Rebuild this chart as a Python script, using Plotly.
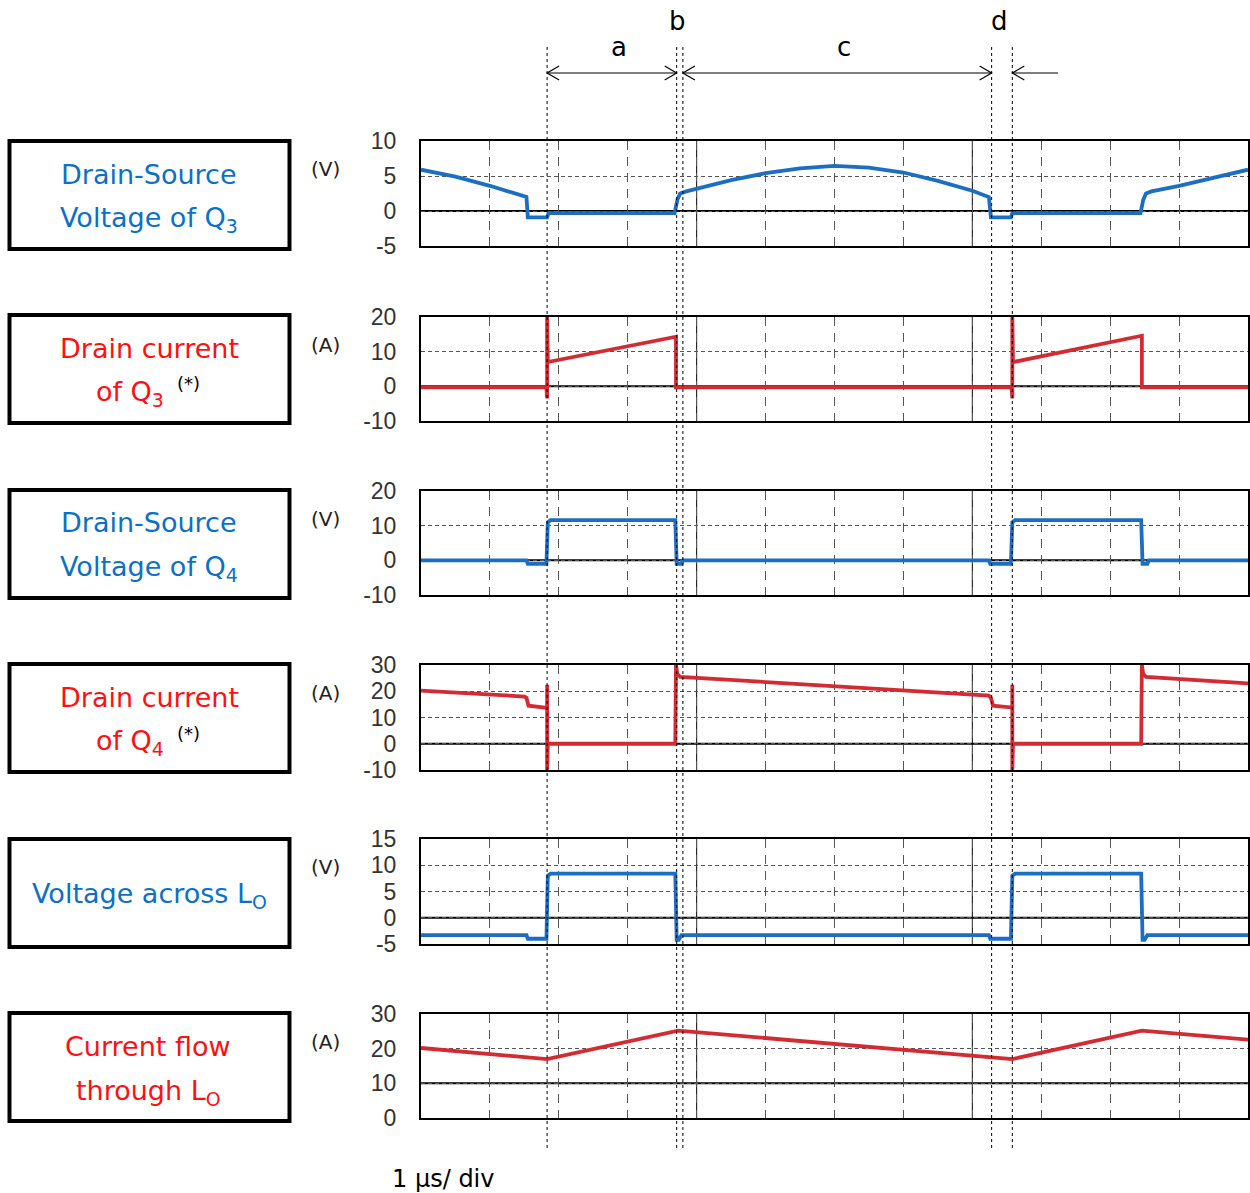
import plotly.graph_objects as go

W, H = 1250, 1193

# ---------------- data (time in µs, 1 µs/div) ----------------
t_vds_q3 = [0, 0.5, 1.0, 1.5, 1.53, 1.55, 1.83, 1.85, 3.68, 3.72, 3.76, 3.85, 4.0, 4.5, 5.0, 5.5,
            6.0, 6.5, 7.0, 7.5, 8.0, 8.24, 8.27, 8.56, 8.58, 10.44, 10.48, 10.52, 10.6, 10.75,
            10.8, 11.0, 11.5, 12.0]
v_vds_q3 = [5.9, 4.9, 3.6, 2.1, 2.0, -0.9, -0.9, -0.3, -0.3, 1.6, 2.5, 2.8, 3.2, 4.4, 5.4, 6.1,
            6.45, 6.2, 5.5, 4.3, 2.9, 2.0, -0.9, -0.9, -0.3, -0.3, 1.6, 2.5, 2.8, 3.0,
            3.2, 3.6, 4.8, 5.9]

t_id_q3 = [0, 1.82, 1.83, 1.83, 1.84, 3.70, 3.70, 3.72, 8.57, 8.58, 8.58, 8.59, 10.46, 10.46, 10.48, 12]
i_id_q3 = [-0.3, -0.3, -3.5, 20, 7.0, 14.3, -0.3, -0.3, -0.3, -3.5, 20, 7.0, 14.6, -0.3, -0.3, -0.3]

t_vds_q4 = [0, 1.53, 1.55, 1.82, 1.84, 1.88, 3.69, 3.71, 3.78, 3.80, 8.24, 8.26, 8.56, 8.58, 8.62,
            10.45, 10.47, 10.54, 10.56, 12]
v_vds_q4 = [0, 0, -1, -1, 11, 11.6, 11.6, -1, -1, 0, 0, -1, -1, 11, 11.6,
            11.6, -1, -1, 0, 0]

t_id_q4 = [0, 1.50, 1.53, 1.56, 1.80, 1.83, 1.83, 1.83, 1.84, 3.69, 3.70, 3.72, 3.76, 8.24, 8.27,
           8.30, 8.56, 8.58, 8.58, 8.58, 8.59, 10.45, 10.46, 10.48, 10.52, 12]
i_id_q4 = [20.2, 18.0, 17.5, 14.5, 13.8, 13.8, 22.5, -10, 0, 0, 30, 26.5, 25.5, 18.3, 17.5,
           14.5, 13.8, 13.8, 22.5, -10, 0, 0, 30, 26.5, 25.5, 23.0]

t_v_lo = [0, 1.53, 1.55, 1.82, 1.84, 1.88, 3.69, 3.71, 3.74, 3.78, 8.24, 8.26, 8.56, 8.58, 8.62,
          10.45, 10.47, 10.50, 10.54, 12]
v_v_lo = [-3.3, -3.3, -4.0, -4.0, 8.0, 8.4, 8.4, -4.2, -4.2, -3.3, -3.3, -4.0, -4.0, 8.0, 8.4,
          8.4, -4.2, -4.2, -3.3, -3.3]

t_i_lo = [0, 1.83, 3.73, 8.58, 10.46, 12]
i_i_lo = [20.2, 17.0, 25.2, 17.0, 25.2, 22.6]

# y tick labels per panel
ticks_p1 = [10, 5, 0, -5]
ticks_p2 = [20, 10, 0, -10]
ticks_p3 = [20, 10, 0, -10]
ticks_p4 = [30, 20, 10, 0, -10]
ticks_p5 = [15, 10, 5, 0, -5]
ticks_p6 = [30, 20, 10, 0]

units = ["(V)", "(A)", "(V)", "(A)", "(V)", "(A)"]
baselines = [0, 0, 0, 0, 0, 10]
solid_divs = [4, 8]

# event markers (µs) and interval labels
event_t = [1.83, 3.71, 3.80, 8.28, 8.58]
interval_labels = ["a", "b", "c", "d"]
interval_label_t = [2.87, 3.72, 6.14, 8.40]

BLUE = "#1b6ec2"
RED = "#d42a32"
TXT_BLUE = "#0a70c8"
TXT_RED = "#ff1010"

series = [
    (t_vds_q3, v_vds_q3, BLUE, ticks_p1),
    (t_id_q3, i_id_q3, RED, ticks_p2),
    (t_vds_q4, v_vds_q4, BLUE, ticks_p3),
    (t_id_q4, i_id_q4, RED, ticks_p4),
    (t_v_lo, v_v_lo, BLUE, ticks_p5),
    (t_i_lo, i_i_lo, RED, ticks_p6),
]

# ---------------- layout geometry (pixels) ----------------
PX_L, PX_R = 421, 1248
panel_px = [(141, 246), (317, 421), (491, 595), (665, 770), (839, 944), (1014, 1118)]


def px(p):
    return p / W


def py(p):
    return 1 - p / H


x_dom = [px(PX_L), px(PX_R)]

fig = go.Figure()
layout = dict(
    width=W, height=H, margin=dict(l=0, r=0, t=0, b=0),
    paper_bgcolor="white", plot_bgcolor="white", showlegend=False,
    template="none",
)

for i, (tx, vy, col, tk) in enumerate(series):
    n = i + 1
    xa = "x" if n == 1 else f"x{n}"
    ya = "y" if n == 1 else f"y{n}"
    fig.add_trace(go.Scatter(x=tx, y=vy, mode="lines", line=dict(color=col, width=3.8),
                             xaxis=xa, yaxis=ya, hoverinfo="skip"))
    top, bot = panel_px[i]
    layout[f"xaxis{'' if n == 1 else n}"] = dict(
        domain=x_dom, range=[0, 12], anchor=ya, tickvals=list(range(1, 12)),
        showticklabels=False, ticks="", showgrid=True, gridcolor="#555555", gridwidth=1,
        griddash="9px,7px", zeroline=False, showline=True, mirror=True, linecolor="black",
        linewidth=2, automargin=False, fixedrange=True,
    )
    layout[f"yaxis{'' if n == 1 else n}"] = dict(
        domain=[py(bot), py(top)], range=[min(tk), max(tk)], anchor=xa, tickvals=tk,
        ticktext=[str(v) for v in tk], ticks="", ticklabelstandoff=18,
        tickfont=dict(family="Liberation Sans Narrow, Liberation Sans, Arial", size=23, color="#333333"),
        showgrid=True, gridcolor="#555555", gridwidth=1, griddash="4px,3px", zeroline=False,
        showline=True, mirror=True, linecolor="black", linewidth=2, automargin=False,
        fixedrange=True,
    )

fig.update_layout(**layout)

shapes = []
annots = []
for i in range(6):
    n = i + 1
    xa = "x" if n == 1 else f"x{n}"
    ya = "y" if n == 1 else f"y{n}"
    shapes.append(dict(type="line", xref=xa, yref=ya, x0=0, x1=12, y0=baselines[i], y1=baselines[i],
                       line=dict(color="black", width=2), layer="below"))
    for d in solid_divs:
        shapes.append(dict(type="line", xref=xa, yref=f"{ya} domain", x0=d, x1=d, y0=0, y1=1,
                           line=dict(color="black", width=1), layer="below"))
    top, bot = panel_px[i]
    annots.append(dict(text=units[i], xref="paper", yref="paper", x=px(326), y=py(top + 28),
                       showarrow=False, xanchor="center", yanchor="middle",
                       font=dict(family="DejaVu Sans", size=20, color="#222222")))

# event dotted lines
for t in event_t:
    shapes.append(dict(type="line", xref="x", yref="paper", x0=t, x1=t, y0=py(47), y1=py(1151),
                       line=dict(color="black", width=1, dash="dot")))

# interval arrows
ARR_Y = py(73)
CH_W = 12 / ((PX_R - PX_L) / 12)
CH_H = 7 / H
arrow_spans = [(event_t[0], event_t[1]), (event_t[2], event_t[3])]
for a, b in arrow_spans:
    shapes.append(dict(type="line", xref="x", yref="paper", x0=a, x1=b, y0=ARR_Y, y1=ARR_Y,
                       line=dict(color="black", width=1.2)))
d_end = (1058 - PX_L) / ((PX_R - PX_L) / 12)
shapes.append(dict(type="line", xref="x", yref="paper", x0=event_t[4], x1=d_end, y0=ARR_Y, y1=ARR_Y,
                   line=dict(color="black", width=1.2)))


def chevron(tip, direction):
    bx = tip - direction * CH_W
    return dict(type="path", xref="x", yref="paper",
                path=f"M {bx},{ARR_Y + CH_H} L {tip},{ARR_Y} L {bx},{ARR_Y - CH_H}",
                line=dict(color="black", width=1.2))


shapes.append(chevron(event_t[0], -1))
shapes.append(chevron(event_t[1], +1))
shapes.append(chevron(event_t[2], -1))
shapes.append(chevron(event_t[3], +1))
shapes.append(chevron(event_t[4], -1))

label_y_px = [47, 21, 47, 21]
for lab, t, yy in zip(interval_labels, interval_label_t, label_y_px):
    annots.append(dict(text=lab, xref="x", yref="paper", x=t, y=py(yy), showarrow=False,
                       xanchor="center", yanchor="middle",
                       font=dict(family="DejaVu Sans", size=26, color="black")))

# left label boxes
box_tops = [139, 313, 488, 662, 837, 1011]
for tpx in box_tops:
    shapes.append(dict(type="rect", xref="paper", yref="paper", x0=px(9.5), x1=px(289.5),
                       y0=py(tpx + 2), y1=py(tpx + 110), line=dict(color="black", width=4)))

BF = dict(family="DejaVu Sans", size=27)
box_texts = [
    ("Drain-Source", 149, 174, TXT_BLUE),
    ("Voltage of Q<sub>3</sub>", 149, 219, TXT_BLUE),
    ("Drain current", 149, 348, TXT_RED),
    ("of Q<sub>3</sub>", 130, 394, TXT_RED),
    ("Drain-Source", 149, 523, TXT_BLUE),
    ("Voltage of Q<sub>4</sub>", 149, 568, TXT_BLUE),
    ("Drain current", 149, 697, TXT_RED),
    ("of Q<sub>4</sub>", 130, 742, TXT_RED),
    ("Voltage across L<sub>O</sub>", 149, 895, TXT_BLUE),
    ("Current flow", 148, 1046, TXT_RED),
    ("through L<sub>O</sub>", 148, 1092, TXT_RED),
]
for txt, x, y, c in box_texts:
    annots.append(dict(text=txt, xref="paper", yref="paper", x=px(x), y=py(y), showarrow=False,
                       xanchor="center", yanchor="middle", font=dict(color=c, **BF)))
for y in (383, 733):
    annots.append(dict(text="(*)", xref="paper", yref="paper", x=px(188), y=py(y), showarrow=False,
                       xanchor="center", yanchor="middle",
                       font=dict(family="DejaVu Sans", size=18, color="black")))

annots.append(dict(text="1 µs/ div", xref="paper", yref="paper", x=px(390), y=py(1179),
                   showarrow=False, xanchor="left", yanchor="middle",
                   font=dict(family="DejaVu Sans", size=24, color="black")))

fig.update_layout(shapes=shapes, annotations=annots)
fig.write_html(
    "out.html",
    config={"displayModeBar": False},
    post_script="document.body.style.margin='0';document.body.style.overflow='hidden';"
                "document.documentElement.style.overflow='hidden';",
)
